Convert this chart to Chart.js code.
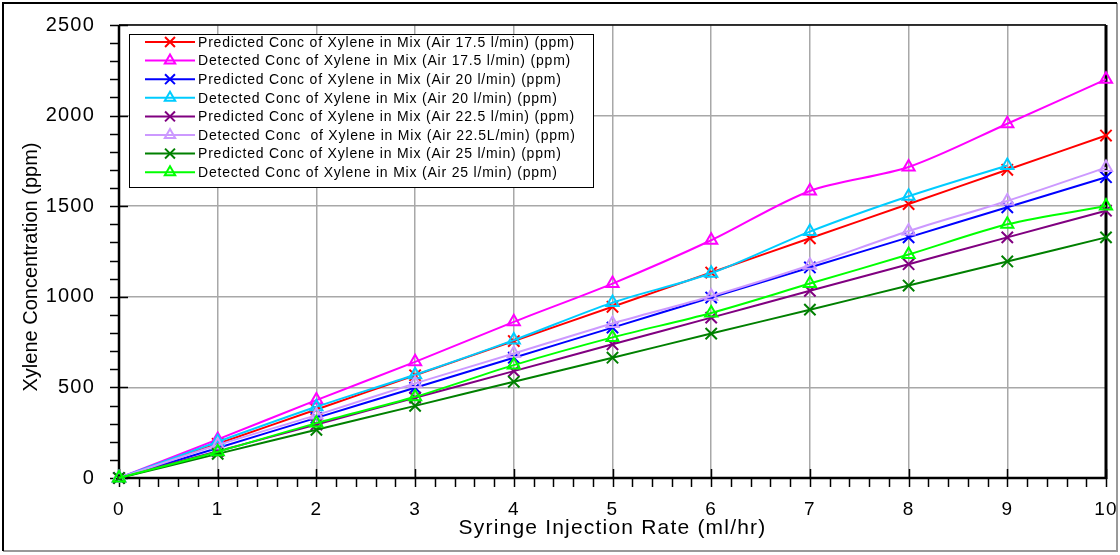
<!DOCTYPE html>
<html>
<head>
<meta charset="utf-8">
<script src="https://cdn.jsdelivr.net/npm/chart.js@4/dist/chart.umd.min.js"></script>
<style>
  html, body { margin: 0; padding: 0; background: #fff; }
</style>
</head>
<body>
<canvas id="chart" width="1120" height="555"></canvas>
<script>
"use strict";

// --- Data ---------------------------------------------------------------------

const rates = [0, 1, 2, 3, 4, 5, 6, 7, 8, 9, 10];

const pred175 = [0, 189, 378, 567, 756, 945, 1134, 1323, 1512, 1701, 1890];
const det175  = [0, 213, 430, 641, 862, 1073, 1312, 1584, 1716, 1955, 2200];
const pred20  = [0, 166, 332, 498, 664, 830, 996, 1162, 1328, 1494, 1660];
const det20   = [0, 200, 393, 570, 761, 968, 1130, 1360, 1555, 1725, null];
const pred225 = [0, 148, 295, 443, 590, 738, 885, 1033, 1180, 1328, 1475];
const det225  = [0, 182, 347, 522, 687, 853, 1003, 1174, 1363, 1529, 1713];
const pred25  = [0, 133, 266, 398, 531, 664, 797, 929, 1062, 1195, 1328];
const det25   = [0, 145, 303, 448, 623, 776, 911, 1073, 1233, 1400, 1501];

const labels = [
  "Predicted Conc of Xylene in Mix (Air 17.5 l/min) (ppm)",
  "Detected Conc of Xylene in Mix (Air 17.5 l/min) (ppm)",
  "Predicted Conc of Xylene in Mix (Air 20 l/min) (ppm)",
  "Detected Conc of Xylene in Mix (Air 20 l/min) (ppm)",
  "Predicted Conc of Xylene in Mix (Air 22.5 l/min) (ppm)",
  "Detected Conc  of Xylene in Mix (Air 22.5L/min) (ppm)",
  "Predicted Conc of Xylene in Mix (Air 25 l/min) (ppm)",
  "Detected Conc of Xylene in Mix (Air 25 l/min) (ppm)",
];

const series = [pred175, det175, pred20, det20, pred225, det225, pred25, det25];
const colors = ["#ff0000", "#ff00ff", "#0000ff", "#00ccff", "#800080", "#cc99ff", "#008000", "#00ff00"];

const X_TITLE = "Syringe Injection Rate (ml/hr)";
const Y_TITLE = "Xylene Concentration (ppm)";

// --- Helpers ------------------------------------------------------------------

const FONT = "'Liberation Sans', Arial, sans-serif";
const GRID = "#a8a8a8";

const toPoints = (vals) =>
  rates.map((r, i) => ({ x: r, y: vals[i] })).filter((p) => p.y !== null);

const datasets = series.map((vals, i) => {
  const detected = i % 2 === 1;
  return {
    label: labels[i],
    data: toPoints(vals),
    borderColor: colors[i],
    backgroundColor: "rgba(0,0,0,0)",
    borderWidth: 2,
    tension: 0.3,
    pointStyle: detected ? "triangle" : "crossRot",
    pointRadius: detected ? 7 : 8,
    pointBorderWidth: 2,
    pointBackgroundColor: "rgba(0,0,0,0)",
    pointBorderColor: colors[i],
    clip: false,
    order: series.length - i, // later series on top, like the original
  };
});

// --- Frame, minor ticks, legend ----------------------------------------------

const framePlugin = {
  id: "frame",
  beforeDraw(chart) {
    // the original text is a bit spaced out
    chart.ctx.letterSpacing = "1.2px";
  },
  beforeDatasetsDraw(chart) {
    const { ctx, chartArea: a, scales: { x, y } } = chart;
    ctx.save();
    ctx.strokeStyle = "#000";

    // y ticks
    ctx.lineWidth = 1.5;
    for (let v = 0; v <= 2500; v += 100) {
      const py = Math.round(y.getPixelForValue(v)) + 0.5;
      const major = v % 500 === 0;
      ctx.beginPath();
      ctx.moveTo(a.left - 9, py);
      ctx.lineTo(a.left + (major ? 9 : 0), py);
      ctx.stroke();
    }
    // x ticks
    for (let v = 0; v <= 50; v += 1) {
      const px = Math.round(x.getPixelForValue(v / 5)) + 0.5;
      const major = v % 5 === 0;
      ctx.beginPath();
      ctx.moveTo(px, a.bottom + 9);
      ctx.lineTo(px, a.bottom - (major ? 9 : 0));
      ctx.stroke();
    }

    // plot frame
    ctx.lineWidth = 1.5;
    ctx.beginPath();
    ctx.moveTo(a.left, a.top);
    ctx.lineTo(a.right, a.top);
    ctx.stroke();
    ctx.lineWidth = 2.5;
    ctx.beginPath();
    ctx.moveTo(a.left, a.top);
    ctx.lineTo(a.left, a.bottom);
    ctx.lineTo(a.right, a.bottom);
    ctx.stroke();
    ctx.lineWidth = 3;
    ctx.beginPath();
    ctx.moveTo(a.right, a.top);
    ctx.lineTo(a.right, a.bottom + 1);
    ctx.stroke();

    // y title
    ctx.letterSpacing = "0px";
    ctx.fillStyle = "#000";
    ctx.font = `20px ${FONT}`;
    ctx.textAlign = "center";
    ctx.textBaseline = "middle";
    ctx.translate(31, 267);
    ctx.rotate(-Math.PI / 2);
    ctx.fillText(Y_TITLE, 0, 0);
    ctx.restore();
  },
  afterDatasetsDraw(chart) {
    const { ctx } = chart;
    ctx.save();

    // legend box
    const bx = 129.5, by = 34.5, bw = 464, bh = 153;
    ctx.fillStyle = "#fff";
    ctx.fillRect(bx, by, bw, bh);
    ctx.strokeStyle = "#000";
    ctx.lineWidth = 1;
    ctx.strokeRect(bx, by, bw, bh);

    ctx.font = `14px ${FONT}`;
    ctx.letterSpacing = "0.8px";
    ctx.textBaseline = "middle";
    ctx.textAlign = "left";
    chart.data.datasets.forEach((ds, i) => {
      const cy = 42 + i * 18.6;
      ctx.strokeStyle = ds.borderColor;
      ctx.lineWidth = 2;
      ctx.beginPath();
      ctx.moveTo(145, cy);
      ctx.lineTo(195, cy);
      ctx.stroke();
      ctx.fillStyle = "rgba(0,0,0,0)";
      Chart.helpers.drawPoint(ctx, {
        pointStyle: ds.pointStyle,
        radius: ds.pointStyle === "triangle" ? 6 : 7,
        borderWidth: 2,
        rotation: 0,
      }, 170, cy);
      ctx.fillStyle = "#000";
      ctx.fillText(ds.label, 198, cy + 1);
    });

    // outer border of the picture
    ctx.lineWidth = 2;
    ctx.strokeStyle = "#999";
    ctx.beginPath();
    ctx.moveTo(1117, 3);
    ctx.lineTo(1117, 551);
    ctx.lineTo(3, 551);
    ctx.stroke();
    ctx.strokeStyle = "#000";
    ctx.beginPath();
    ctx.moveTo(3, 551);
    ctx.lineTo(3, 3);
    ctx.lineTo(1117, 3);
    ctx.stroke();
    ctx.restore();
  },
};

// --- Chart --------------------------------------------------------------------

new Chart(document.getElementById("chart"), {
  type: "line",
  data: { datasets },
  options: {
    responsive: false,
    animation: false,
    layout: { padding: { top: 25, right: 14, left: 0, bottom: 0 } },
    plugins: { legend: { display: false }, tooltip: { enabled: false } },
    scales: {
      x: {
        type: "linear",
        min: 0,
        max: 10,
        afterFit: (s) => { s.height = 77; s.paddingLeft = 0; s.paddingRight = 0; },
        ticks: {
          stepSize: 1, padding: 20, color: "#000",
          font: { family: FONT, size: 19 },
          callback: (v) => String(v),
        },
        grid: { color: GRID, lineWidth: 1.5, drawTicks: false },
        border: { display: false },
        title: {
          display: true, text: X_TITLE, color: "#000",
          font: { family: FONT, size: 21 }, padding: { top: 0, bottom: 14 },
        },
      },
      y: {
        min: 0,
        max: 2500,
        afterFit: (s) => { s.width = 119; s.paddingTop = 0; s.paddingBottom = 0; },
        ticks: {
          stepSize: 500, padding: 24, color: "#000",
          font: { family: FONT, size: 20 },
          callback: (v) => String(v),
        },
        grid: { color: GRID, lineWidth: 1.5, drawTicks: false },
        border: { display: false },
      },
    },
  },
  plugins: [framePlugin],
});
</script>
</body>
</html>
